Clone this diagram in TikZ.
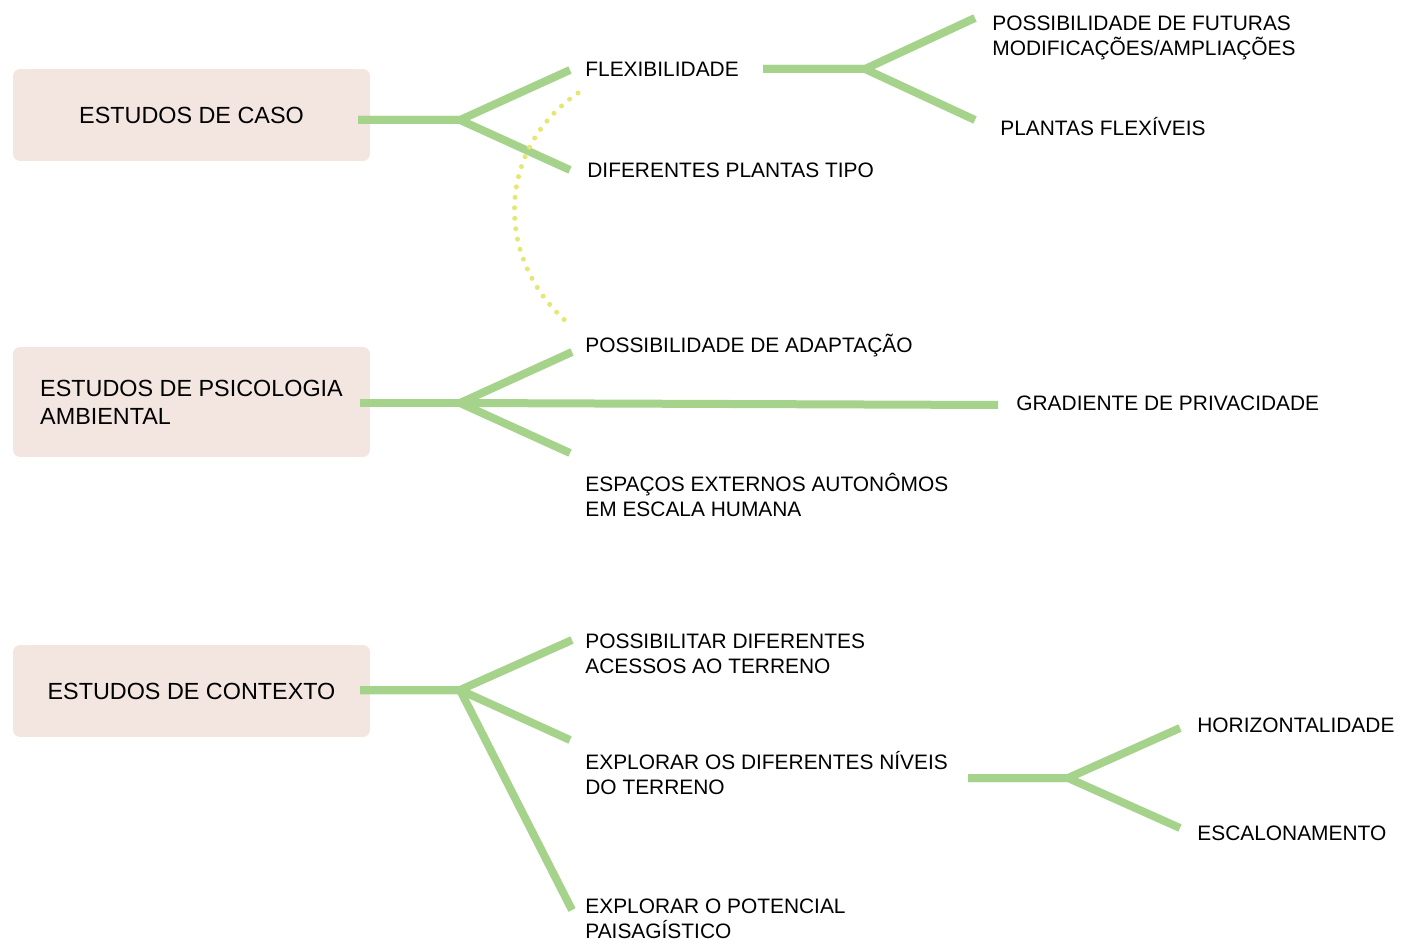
\documentclass[tikz,border=0pt]{standalone}
\usepackage{fontspec}
\setmainfont{Liberation Sans}
\definecolor{branchgreen}{RGB}{166,211,139}
\definecolor{boxpink}{RGB}{243,229,224}
\definecolor{dotyellow}{RGB}{230,231,112}

\begin{document}
\begin{tikzpicture}[x=0.02cm,y=-0.02cm,
    topic/.style={fill=boxpink,rounded corners=4pt,minimum width=7.14cm,
      align=left,inner sep=0pt,font=\fontsize{13.3}{15.9}\selectfont},
    item/.style={anchor=west,align=left,inner sep=0pt,
      font=\fontsize{11.9}{14.2}\selectfont},
    branch/.style={draw=branchgreen,line width=0.16cm,line join=round},
    dots/.style={draw=dotyellow,line width=0.1cm,line cap=round,
      dash pattern=on 0pt off 0.21cm}]
  \useasboundingbox (0,0) rectangle (1402,945);

  % estudos de caso
  \node[topic,minimum height=1.84cm] (caso) at (191.5,115) {ESTUDOS DE CASO};
  \node[item] (flex) at (585,69) {FLEXIBILIDADE};
  \node[item] (tipo) at (587,170) {DIFERENTES PLANTAS TIPO};
  \node[item] (futuras) at (992,38) {POSSIBILIDADE DE FUTURAS\\MODIFICAÇÕES/AMPLIAÇÕES};
  \node[item] (plantas) at (1000,127) {PLANTAS FLEXÍVEIS};
  \coordinate (caso-s) at (358,120);
  \coordinate (caso-j) at (460,120);
  \coordinate (flex-s) at (763,69);
  \coordinate (flex-j) at (865,69);
  \draw[branch] (caso-s) -- (caso-j) -- (570,70);
  \draw[branch] (caso-s) -- (caso-j) -- (570,170);
  \draw[branch] (flex-s) -- (flex-j) -- (975,18);
  \draw[branch] (flex-s) -- (flex-j) -- (975,120);

  % ligacao pontilhada
  \coordinate (arc-a) at (578,93);
  \coordinate (arc-b) at (568,323);
  \draw[dots] (arc-a) .. controls (495,150) and (495,260) .. (arc-b);

  % psicologia ambiental
  \node[topic,minimum height=2.2cm] (psico) at (191.5,402) {ESTUDOS DE PSICOLOGIA\\AMBIENTAL};
  \node[item] (adapt) at (585,346) {POSSIBILIDADE DE ADAPTAÇÃO};
  \node[item] (grad) at (1016,403) {GRADIENTE DE PRIVACIDADE};
  \node[item] (espacos) at (585,495) {ESPAÇOS EXTERNOS AUTONÔMOS\\EM ESCALA HUMANA};
  \coordinate (psico-s) at (360,403);
  \coordinate (psico-j) at (460,403);
  \draw[branch] (psico-s) -- (psico-j) -- (572,352);
  \draw[branch] (psico-s) -- (psico-j) -- (998,405);
  \draw[branch] (psico-s) -- (psico-j) -- (570,453);

  % contexto
  \node[topic,minimum height=1.84cm] (ctx) at (191.5,691) {ESTUDOS DE CONTEXTO};
  \node[item] (acessos) at (585,653.5) {POSSIBILITAR DIFERENTES\\ACESSOS AO TERRENO};
  \node[item] (niveis) at (585,773.5) {EXPLORAR OS DIFERENTES NÍVEIS\\DO TERRENO};
  \node[item] (paisag) at (585,919) {EXPLORAR O POTENCIAL\\PAISAGÍSTICO};
  \node[item] (horiz) at (1197,725) {HORIZONTALIDADE};
  \node[item] (escal) at (1197,833) {ESCALONAMENTO};
  \coordinate (ctx-s) at (360,690);
  \coordinate (ctx-j) at (460,690);
  \coordinate (niv-s) at (968,778);
  \coordinate (niv-j) at (1068,778);
  \draw[branch] (ctx-s) -- (ctx-j) -- (572,640);
  \draw[branch] (ctx-s) -- (ctx-j) -- (570,740);
  \draw[branch] (ctx-s) -- (ctx-j) -- (572,910);
  \draw[branch] (niv-s) -- (niv-j) -- (1180,728);
  \draw[branch] (niv-s) -- (niv-j) -- (1180,828);
\end{tikzpicture}
\end{document}
